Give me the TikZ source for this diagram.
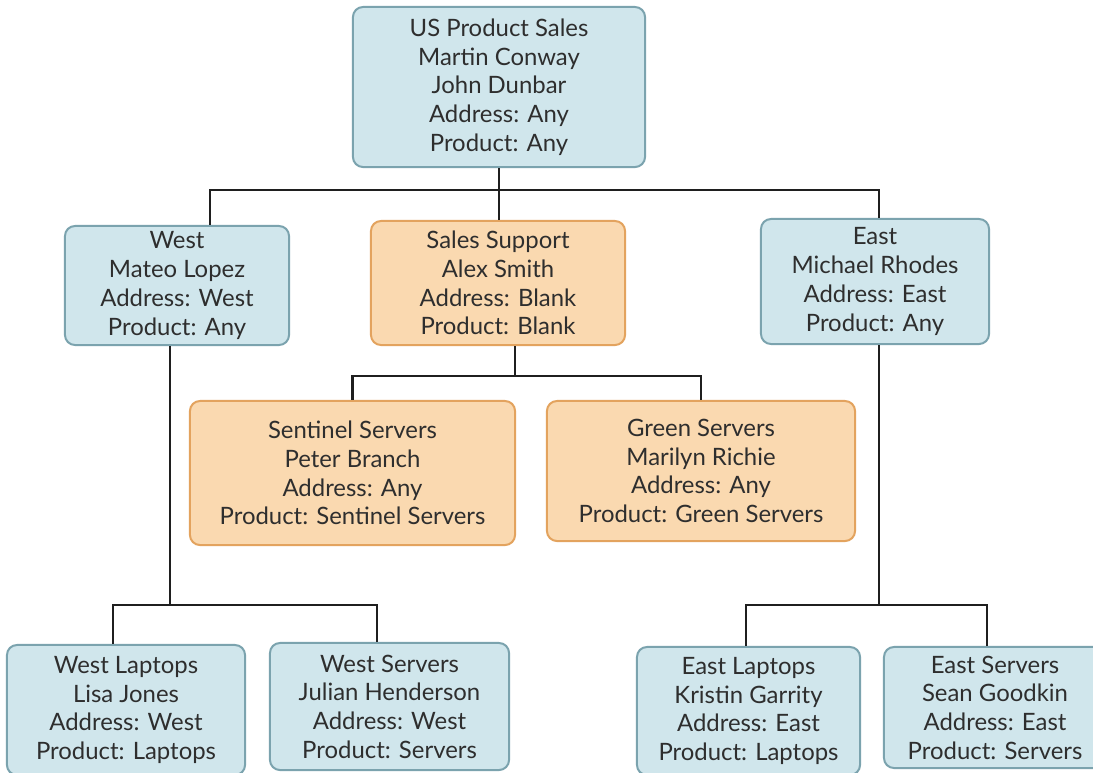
\documentclass[tikz,border=0pt]{standalone}
\usepackage{fontspec}
\setmainfont{Lato}
\usetikzlibrary{calc}
\definecolor{unitfill}{HTML}{D0E6EC}
\definecolor{unitedge}{HTML}{7BA3AE}
\definecolor{supfill}{HTML}{FAD9B0}
\definecolor{supedge}{HTML}{E3A35E}
\definecolor{unittext}{HTML}{2E2E2E}
\tikzset{
  unit/.style={draw=unitedge, fill=unitfill, rounded corners=0.25cm, line width=0.05cm,
    align=center, text=unittext, inner sep=0pt, font=\fontsize{17}{20.4}\selectfont},
  support/.style={unit, draw=supedge, fill=supfill},
  link/.style={line width=0.07cm, color=black!88},
}

\begin{document}
\begin{tikzpicture}[x=0.025cm, y=-0.025cm]
		%%%%% START %%%%%
		\useasboundingbox (0, 0) rectangle (1093, 772);
		
		\node[unit, minimum width=7.3cm, minimum height=4cm] (us) at (499, 87)
			{US Product Sales\\Martin Conway\\John Dunbar\\Address: Any\\Product: Any};
		
		\node[unit, minimum width=5.6cm, minimum height=2.975cm] (west) at (177, 285.5)
			{West\\Mateo Lopez\\Address: West\\Product: Any};
		\node[support, minimum width=6.35cm, minimum height=3.1cm] (sales) at (498, 283)
			{Sales Support\\Alex Smith\\Address: Blank\\Product: Blank};
		\node[unit, minimum width=5.7cm, minimum height=3.125cm] (east) at (875, 281.5)
			{East\\Michael Rhodes\\Address: East\\Product: Any};
		
		\node[support, minimum width=8.125cm, minimum height=3.6cm] (sentinel) at (352.5, 473)
			{Sentinel Servers\\Peter Branch\\Address: Any\\Product: Sentinel Servers};
		\node[support, minimum width=7.7cm, minimum height=3.5cm] (green) at (701, 471)
			{Green Servers\\Marilyn Richie\\Address: Any\\Product: Green Servers};
		
		\node[unit, minimum width=5.95cm, minimum height=3.25cm] (wlaptops) at (126, 710)
			{West Laptops\\Lisa Jones\\Address: West\\Product: Laptops};
		\node[unit, minimum width=5.975cm, minimum height=3.175cm] (wservers) at (389.5, 706.5)
			{West Servers\\Julian Henderson\\Address: West\\Product: Servers};
		\node[unit, minimum width=5.575cm, minimum height=3.2cm] (elaptops) at (748.5, 711)
			{East Laptops\\Kristin Garrity\\Address: East\\Product: Laptops};
		\node[unit, minimum width=5.55cm, minimum height=3.025cm] (eservers) at (995, 707.5)
			{East Servers\\Sean Goodkin\\Address: East\\Product: Servers};
		
		% bus points
		\coordinate (westdrop) at (210, 190);
		\coordinate (eastdrop) at (879, 190);
		\coordinate (salesdrop) at (515, 376);
		\coordinate (westbus) at (170, 605);
		\coordinate (wlapdrop) at (113, 605);
		\coordinate (wsrvdrop) at (377, 605);
		\coordinate (eastbus) at (879, 605);
		\coordinate (elapdrop) at (746, 605);
		\coordinate (esrvdrop) at (987, 605);
		
		\draw[link] (us.south) -- (us.south |- sales.north);
		\draw[link] (westdrop |- west.north) -- (westdrop) -- (eastdrop) -- (eastdrop |- east.north);
		
		\draw[link] (salesdrop |- sales.south) -- (salesdrop);
		\draw[link] (sentinel.north) |- (salesdrop) -| (green.north);
		
		\draw[link] (westbus |- west.south) -- (westbus);
		\draw[link] (wlapdrop |- wlaptops.north) -- (wlapdrop) -- (wsrvdrop) -- (wsrvdrop |- wservers.north);
		
		\draw[link] (eastbus |- east.south) -- (eastbus);
		\draw[link] (elapdrop |- elaptops.north) -- (elapdrop) -- (esrvdrop) -- (esrvdrop |- eservers.north);
		
		%%%%% END %%%%%
\end{tikzpicture}
\end{document}
